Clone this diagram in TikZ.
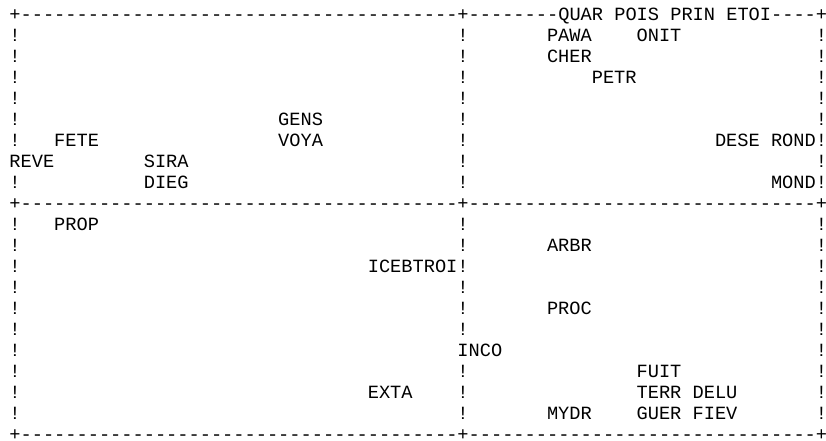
\documentclass[tikz,border=0pt]{standalone}
\usepackage{fontspec}
\setmonofont{Liberation Mono}
\newcommand\dashrun[1]{\foreach\i in {1,...,#1}{-}}

\begin{document}
\begin{tikzpicture}[x=11.2pt,y=-21pt]
    \tikzset{cell/.style = {anchor=base west,inner sep=0pt,outer sep=0pt,text depth=0pt,
        font=\ttfamily\fontsize{18.67pt}{21pt}\selectfont}}
    \useasboundingbox (-9.4pt,20.6pt) rectangle (816.6pt,-420.4pt);
    % frame
    \node[cell] (top) at (0,0) {+\dashrun{39}+\dashrun{8}QUAR POIS PRIN ETOI\dashrun{4}+};
    \node[cell] (mid) at (0,9) {+\dashrun{39}+\dashrun{31}+};
    \node[cell] (bot) at (0,20) {+\dashrun{39}+\dashrun{31}+};
    \foreach \r in {1,2,3,4,5,6,8,10,11,12,13,14,15,16,17,18,19}
        \node[cell] (l\r) at (0,\r) {!};
    \foreach \r in {1,2,3,4,5,6,7,8,10,11,12,13,14,15,17,18,19}
        \node[cell] (m\r) at (40,\r) {!};
    \foreach \r in {1,2,3,4,5,6,7,8,10,11,12,13,14,15,16,17,18,19}
        \node[cell] (r\r) at (72,\r) {!};

    % words
    \node[cell] (pawa) at (48,1) {PAWA};
    \node[cell] (onit) at (56,1) {ONIT};
    \node[cell] (cher) at (48,2) {CHER};
    \node[cell] (petr) at (52,3) {PETR};
    \node[cell] (gens) at (24,5) {GENS};
    \node[cell] (fete) at (4,6) {FETE};
    \node[cell] (voya) at (24,6) {VOYA};
    \node[cell] (dese) at (63,6) {DESE};
    \node[cell] (rond) at (68,6) {ROND};
    \node[cell] (reve) at (0,7) {REVE};
    \node[cell] (sira) at (12,7) {SIRA};
    \node[cell] (dieg) at (12,8) {DIEG};
    \node[cell] (mond) at (68,8) {MOND};
    \node[cell] (prop) at (4,10) {PROP};
    \node[cell] (arbr) at (48,11) {ARBR};
    \node[cell] (icebtroi) at (32,12) {ICEBTROI};
    \node[cell] (proc) at (48,14) {PROC};
    \node[cell] (inco) at (40,16) {INCO};
    \node[cell] (fuit) at (56,17) {FUIT};
    \node[cell] (exta) at (32,18) {EXTA};
    \node[cell] (terr) at (56,18) {TERR};
    \node[cell] (delu) at (61,18) {DELU};
    \node[cell] (mydr) at (48,19) {MYDR};
    \node[cell] (guer) at (56,19) {GUER};
    \node[cell] (fiev) at (61,19) {FIEV};
\end{tikzpicture}
\end{document}
